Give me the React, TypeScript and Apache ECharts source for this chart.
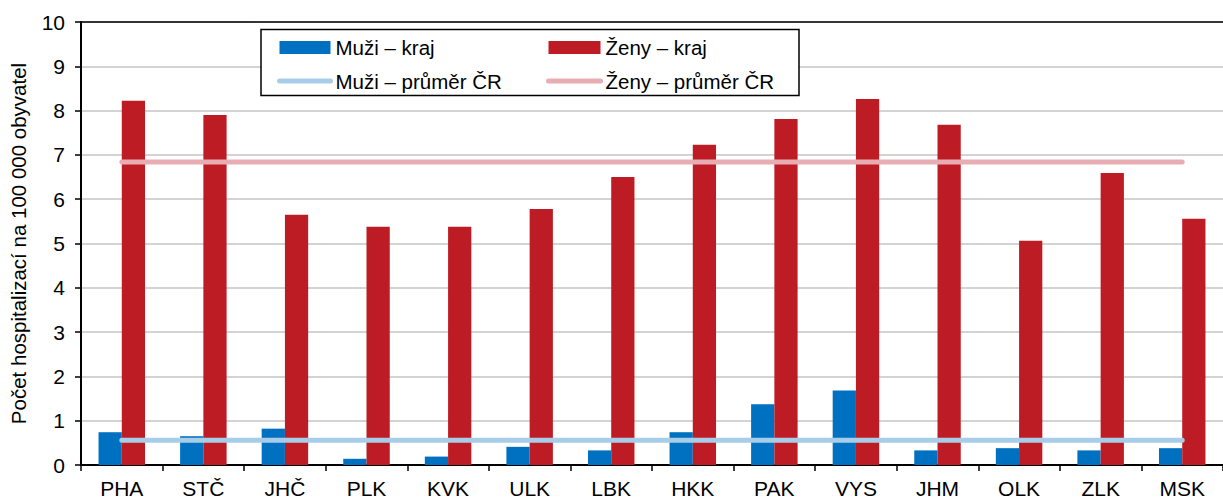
import React, { useEffect, useRef } from "react";
import * as echarts from "echarts";

const categories = ["PHA", "STČ", "JHČ", "PLK", "KVK", "ULK", "LBK", "HKK", "PAK", "VYS", "JHM", "OLK", "ZLK", "MSK"];
const muziKraj = [0.74, 0.65, 0.82, 0.14, 0.19, 0.41, 0.33, 0.74, 1.37, 1.68, 0.33, 0.38, 0.33, 0.38];
const zenyKraj = [8.22, 7.9, 5.65, 5.38, 5.38, 5.78, 6.5, 7.23, 7.81, 8.26, 7.68, 5.06, 6.59, 5.56];
const muziCR = [0.56, 0.56, 0.56, 0.56, 0.56, 0.56, 0.56, 0.56, 0.56, 0.56, 0.56, 0.56, 0.56, 0.56];
const zenyCR = [6.84, 6.84, 6.84, 6.84, 6.84, 6.84, 6.84, 6.84, 6.84, 6.84, 6.84, 6.84, 6.84, 6.84];
const yTitle = "Počet hospitalizací na 100 000 obyvatel";

const FONT = "'Liberation Sans', Arial, sans-serif";

export default function App() {
  const ref = useRef<HTMLDivElement>(null);
  useEffect(() => {
    document.body.style.margin = "0";
    if (!ref.current) return;
    const chart = echarts.init(ref.current, null, { renderer: "svg" });
    const legendText = { fontFamily: FONT, fontSize: 20.5, color: "#000", lineHeight: 20 };
    const lineItem = (name: string, color: string) => ({
      name,
      itemStyle: { opacity: 0 },
      lineStyle: { color, width: 5, cap: "round" },
    });
    const barItem = (name: string) => ({ name, icon: "rect" });
    chart.setOption({
      animation: false,
      textStyle: { fontFamily: FONT },
      grid: { left: 81, right: 0, top: 22, bottom: 34, containLabel: false },
      graphic: [
        {
          type: "rect",
          z: 3,
          shape: { x: 261, y: 29.5, width: 538, height: 66 },
          style: { fill: "#fff", stroke: "#000", lineWidth: 1.5 },
        },
      ],
      legend: [
        {
          z: 6,
          orient: "vertical",
          left: 277,
          top: 37,
          padding: 0,
          itemGap: 12.6,
          itemWidth: 51,
          itemHeight: 13,
          itemTextGap: 13,
          textStyle: legendText,
          data: [barItem("Muži – kraj"), lineItem("Muži – průměr ČR", "#A7CDE8")],
        },
        {
          z: 6,
          orient: "vertical",
          left: 546,
          top: 37,
          padding: 0,
          itemGap: 12.6,
          itemWidth: 52,
          itemHeight: 13,
          itemTextGap: 12,
          textStyle: legendText,
          data: [barItem("Ženy – kraj"), lineItem("Ženy – průměr ČR", "#E8ADB2")],
        },
      ],
      xAxis: [
        {
          type: "category",
          data: categories,
          axisLine: { lineStyle: { color: "#000", width: 2 } },
          axisTick: { show: true, length: 6, lineStyle: { color: "#000", width: 1.5 } },
          axisLabel: { color: "#000", fontSize: 21, fontFamily: FONT, margin: 13 },
        },
        {
          type: "category",
          position: "top",
          data: categories,
          axisLine: { show: true, lineStyle: { color: "#000", width: 1.5 } },
          axisTick: { show: false },
          axisLabel: { show: false },
        },
      ],
      yAxis: {
        type: "value",
        min: 0,
        max: 10,
        interval: 1,
        name: yTitle,
        nameLocation: "middle",
        nameRotate: 90,
        nameGap: 52,
        nameTextStyle: { color: "#000", fontSize: 20.5, fontFamily: FONT },
        axisLine: { show: true, lineStyle: { color: "#000", width: 2 } },
        axisTick: { show: true, length: 6, lineStyle: { color: "#000", width: 1.5 } },
        axisLabel: { color: "#000", fontSize: 21, fontFamily: FONT, margin: 16 },
        splitLine: { show: true, lineStyle: { color: "#C4C4C4", width: 1.5 } },
      },
      series: [
        {
          name: "Muži – kraj",
          type: "bar",
          data: muziKraj,
          barGap: "0%",
          barCategoryGap: "43%",
          itemStyle: { color: "#0070C0" },
          z: 2,
        },
        {
          name: "Ženy – kraj",
          type: "bar",
          data: zenyKraj,
          barGap: "0%",
          barCategoryGap: "43%",
          itemStyle: { color: "#BE1C24" },
          z: 2,
        },
        {
          name: "Muži – průměr ČR",
          type: "line",
          data: muziCR,
          symbol: "none",
          showSymbol: false,
          lineStyle: { color: "#A7CDE8", width: 5, cap: "round" },
          itemStyle: { color: "#A7CDE8" },
          z: 4,
        },
        {
          name: "Ženy – průměr ČR",
          type: "line",
          data: zenyCR,
          symbol: "none",
          showSymbol: false,
          lineStyle: { color: "#E8ADB2", width: 5, cap: "round" },
          itemStyle: { color: "#E8ADB2" },
          z: 4,
        },
      ],
    });
    return () => chart.dispose();
  }, []);
  return <div ref={ref} style={{ width: 1223, height: 499 }} />;
}
